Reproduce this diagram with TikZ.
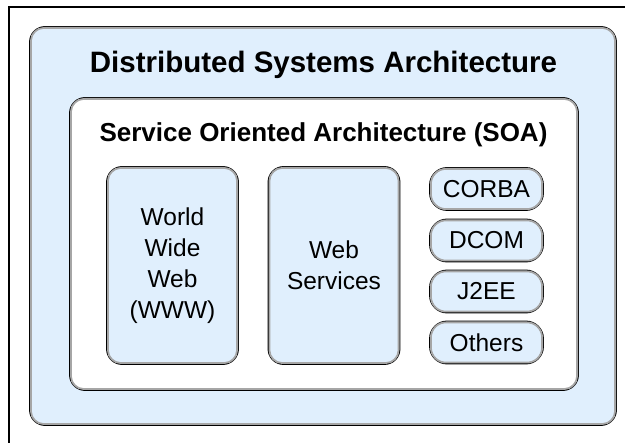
\documentclass[tikz,border=0pt]{standalone}
\usepackage{fontspec}
\setmainfont{Liberation Sans}
\newlength{\du}
\setlength{\du}{1pt}
\definecolor{panelfill}{rgb}{0.878431, 0.937255, 0.992157}
\definecolor{rimgray}{rgb}{0.650980, 0.650980, 0.650980}
\tikzset{
  panel/.style={draw=black, line width=1.8\du, fill=panelfill, rounded corners=15\du,
    inner sep=0pt, align=center, font=\fontsize{24.5}{31}\selectfont},
  whitepanel/.style={panel, fill=white},
  pill/.style={panel, rounded corners=17\du, minimum width=113\du, minimum height=42\du},
  tallbox/.style={panel, minimum width=131\du, minimum height=197\du},
  rim/.style={draw=rimgray, line width=1.8\du},
  heading/.style={anchor=base, inner sep=0pt, font=\bfseries\fontsize{#1}{#1}\selectfont}
}
\begin{document}
\begin{tikzpicture}
\pgftransformxscale{1.000000}
\pgftransformyscale{-1.000000}
\useasboundingbox (0\du,0\du) rectangle (627\du,443\du);
% page frame
\draw[line width=1.3\du] (9\du,443\du)--(9\du,7\du)--(625\du,7\du);
% panels
\node[panel, minimum width=586\du, minimum height=398\du] (dsa) at (323\du,226\du) {};
\node[whitepanel, minimum width=508\du, minimum height=292\du] (soa) at (324\du,244\du) {};
\node[tallbox] (www) at (172.5\du,265.5\du) {World\\Wide\\Web\\(WWW)};
\node[tallbox] (websvc) at (334\du,265.5\du) {Web\\Services};
\node[pill] (corba) at (486.5\du,189\du) {CORBA};
\node[pill] (dcom) at (486.5\du,240.5\du) {DCOM};
\node[pill] (jee) at (486.5\du,291.5\du) {J2EE};
\node[pill] (others) at (486.5\du,342.5\du) {Others};
\foreach \n/\r in {dsa/13,soa/13,www/13,websvc/13,corba/15,dcom/15,jee/15,others/15}
  \draw[rim, rounded corners=\r\du] ([shift={(1.8\du,1.8\du)}]\n.north west) rectangle ([shift={(-1.8\du,-1.8\du)}]\n.south east);
% titles
\node[heading=29.5] (dsatitle) at (323.5\du,73\du) {Distributed Systems Architecture};
\node[heading=26] (soatitle) at (323.5\du,142\du) {Service Oriented Architecture (SOA)};
\end{tikzpicture}
\end{document}
